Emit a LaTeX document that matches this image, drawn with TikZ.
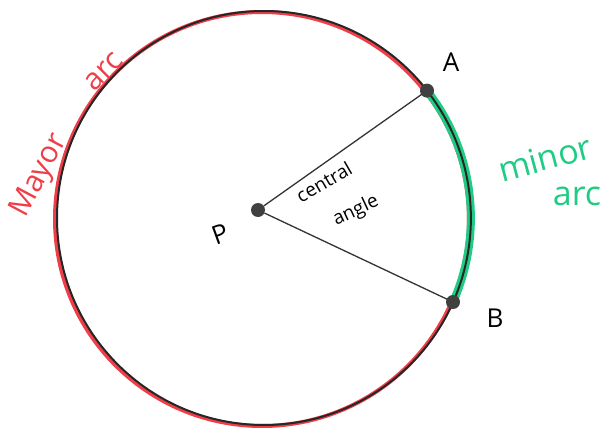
\documentclass[tikz,border=0pt]{standalone}
\usepackage{fontspec}
\setmainfont{Open Sans}
\definecolor{arcred}{RGB}{240,62,72}
\definecolor{arcgreen}{RGB}{32,204,132}
\tikzset{
  pt/.style={circle,fill=black!75,inner sep=0pt,minimum size=14pt},
  lbl/.style={font=\fontsize{26}{28}\selectfont,inner sep=1pt},
}
\begin{document}
\begin{tikzpicture}[x=1pt,y=-1pt]
  \useasboundingbox (0,0) rectangle (614,434);
  % circle, red over-drawn major arc
  \draw[arcred,line width=4pt] (262,219) circle (207);
  \draw[black!85,line width=2pt] (264,218) circle (207);
  \node[pt] (P) at (258,210) {};
  \coordinate (A) at (427,90.6);
  \coordinate (B) at (453,302);
  % minor arc
  \draw[arcgreen,line width=8pt] (A) arc[start angle=-38,end angle=24,radius=207];
  \draw[black!85,line width=2pt] (A) arc[start angle=-38,end angle=24,radius=207];
  \draw[black!80,line width=1.3pt] (P)--(A);
  \draw[black!80,line width=1.3pt] (P)--(B);
  \node[pt] (dA) at (A) {};
  \node[pt] (dB) at (B) {};
  \node[lbl] (la) at (451,62) {A};
  \node[lbl] (lb) at (495,318) {B};
  \node[lbl,rotate=20] (lp) at (220,234) {P};
  \node[rotate=30,font=\fontsize{19}{21}\selectfont,inner sep=0pt] (ang1) at (324,182) {central};
  \node[rotate=25,font=\fontsize{19}{21}\selectfont,inner sep=0pt] (ang2) at (356,211) {angle};
  \node[arcgreen,rotate=15,font=\fontsize{34}{36}\selectfont,inner sep=0pt] (mn) at (545,158) {minor};
  \node[arcgreen,font=\fontsize{34}{36}\selectfont,inner sep=0pt] (ma) at (577,196) {arc};
  \node[arcred,rotate=62,font=\fontsize{30}{32}\selectfont,inner sep=0pt] (my) at (40,176) {Mayor};
  \node[arcred,rotate=45,font=\fontsize{30}{32}\selectfont,inner sep=0pt] (ar) at (104,72) {arc};
\end{tikzpicture}
\end{document}
